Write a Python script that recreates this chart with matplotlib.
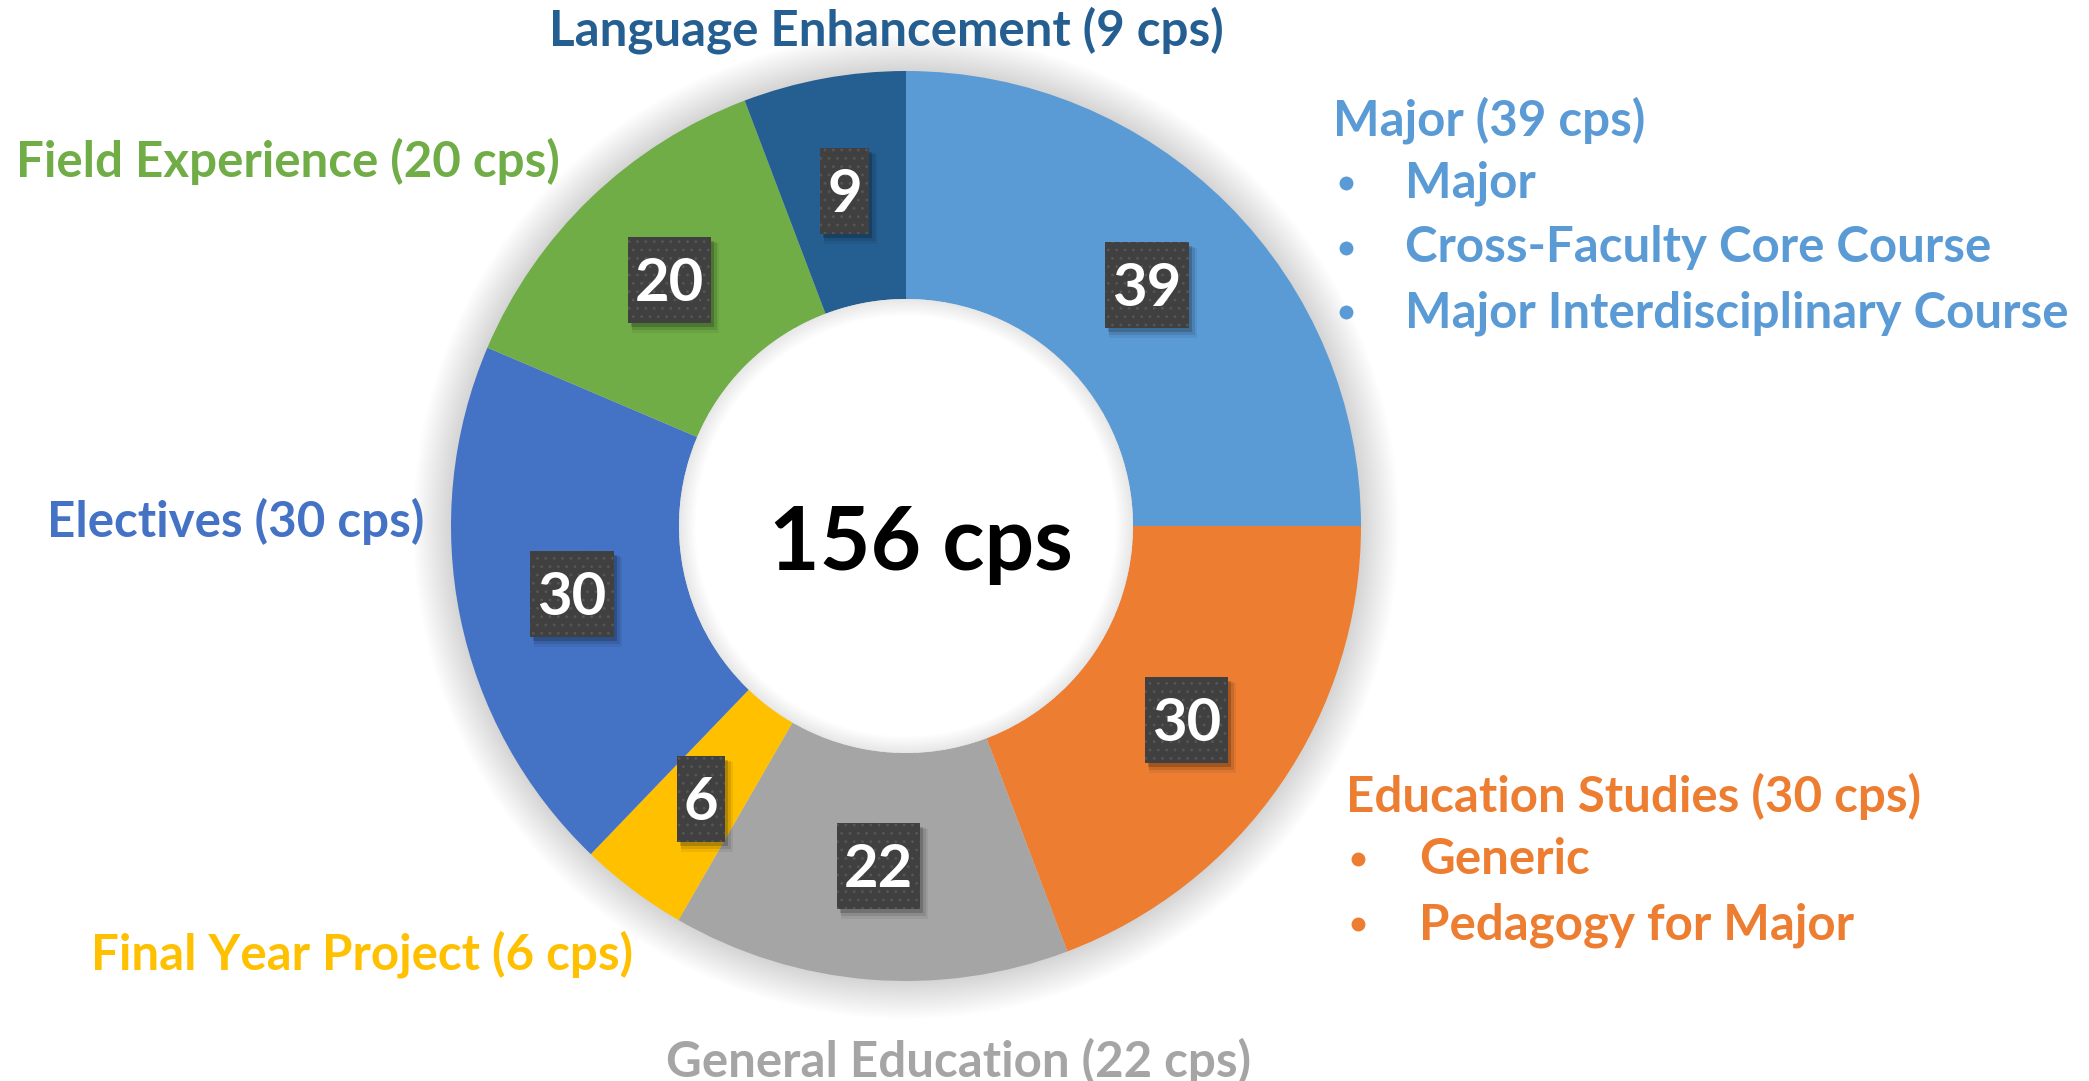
import numpy as np
import matplotlib.pyplot as plt
from matplotlib.patches import Circle, Wedge, Rectangle

# data
categories = ['Major', 'Education Studies', 'General Education', 'Final Year Project',
              'Electives', 'Field Experience', 'Language Enhancement']
credits = [39, 30, 22, 6, 30, 20, 9]
colors = ['#5B9BD5', '#ED7D31', '#A5A5A5', '#FFC000', '#4472C4', '#70AD47', '#255E91']
major_items = ['Major', 'Cross-Faculty Core Course', 'Major Interdisciplinary Course']
edu_items = ['Generic', 'Pedagogy for Major']

plt.rcParams['font.family'] = ['Lato', 'DejaVu Sans']
plt.rcParams['font.weight'] = 'bold'
plt.rcParams['hatch.linewidth'] = 0.8

W, H = 2089, 1081
fig = plt.figure(figsize=(W / 100, H / 100), dpi=100)
ax = fig.add_axes([0, 0, 1, 1])
ax.set_xlim(0, W)
ax.set_ylim(0, H)
ax.set_aspect('equal')
ax.axis('off')


def Y(y):
    # image row -> data y
    return H - y


cx, cy = 906, Y(526)
R, r_in = 455, 227

# soft glow around the ring
for k in range(22):
    ax.add_patch(Circle((cx, cy), R + 1.8 * k, color='black', alpha=0.008, lw=0, zorder=1))

ax.pie(credits, colors=colors, startangle=90, counterclock=False, radius=R,
       center=(cx, cy), wedgeprops=dict(width=R - r_in, linewidth=0))
for w in ax.patches[-len(credits):]:
    w.set_zorder(2)
ax.set_xlim(0, W)
ax.set_ylim(0, H)
ax.axis('off')

ax.add_patch(Circle((cx, cy), r_in, color='white', lw=0, zorder=3))
for k in range(12):
    ax.add_patch(Wedge((cx, cy), r_in, 0, 360, width=1.4 * (k + 1), color='black',
                       alpha=0.008, lw=0, zorder=4))

total = sum(credits)
ax.text(921, Y(570), f'{total} cps', fontsize=63, ha='center', va='baseline',
        color='black', zorder=8)

# value boxes on the ring
renderer = fig.canvas.get_renderer()
cum = np.cumsum([0] + credits)
rm = (R + r_in) / 2
for i, v in enumerate(credits):
    mid = (cum[i] + v / 2) / total * 360
    ang = np.deg2rad(90 - mid)
    x, y = cx + rm * np.cos(ang), cy + rm * np.sin(ang)
    t = ax.text(x, y - 21, str(v), fontsize=43, color='white', ha='center',
                va='baseline', zorder=9)
    tw = t.get_window_extent(renderer=renderer).width
    bw, bh = tw + 14, 86
    for dx, dy, grow, a in [(3, -4, 0, 0.18), (5, -6, 2, 0.10), (6, -8, 4, 0.06)]:
        ax.add_patch(Rectangle((x - bw / 2 + dx - grow / 2, y - bh / 2 + dy - grow / 2),
                               bw + grow, bh + grow, facecolor='black', alpha=a,
                               lw=0, zorder=5))
    ax.add_patch(Rectangle((x - bw / 2, y - bh / 2), bw, bh, facecolor='#404040',
                           edgecolor='#565656', hatch='..', lw=0, zorder=6))

# category labels
fs = 35.5
ax.text(886, Y(46), f'{categories[6]} ({credits[6]} cps)', color=colors[6],
        fontsize=fs, ha='center', va='baseline')
ax.text(1333, Y(135), f'{categories[0]} ({credits[0]} cps)', color=colors[0],
        fontsize=fs, ha='left', va='baseline')
for j, item in enumerate(major_items):
    yb = Y(198 + 64.5 * j)
    ax.plot(1346, yb + 15, 'o', ms=10, color=colors[0], mew=0)
    ax.text(1405, yb, item, color=colors[0], fontsize=fs, ha='left', va='baseline')

ax.text(16, Y(177), f'{categories[5]} ({credits[5]} cps)', color=colors[5],
        fontsize=fs, ha='left', va='baseline')
ax.text(47, Y(537), f'{categories[4]} ({credits[4]} cps)', color=colors[4],
        fontsize=fs, ha='left', va='baseline')
ax.text(91, Y(970), f'{categories[3]} ({credits[3]} cps)', color=colors[3],
        fontsize=fs, ha='left', va='baseline')
ax.text(959, Y(1077), f'{categories[2]} ({credits[2]} cps)', color=colors[2],
        fontsize=fs, ha='center', va='baseline')

ax.text(1346, Y(812), f'{categories[1]} ({credits[1]} cps)', color=colors[1],
        fontsize=fs, ha='left', va='baseline')
for j, item in enumerate(edu_items):
    yb = Y(874 + 65 * j)
    ax.plot(1358, yb + 15, 'o', ms=10, color=colors[1], mew=0)
    ax.text(1419, yb, item, color=colors[1], fontsize=fs, ha='left', va='baseline')

fig.savefig('out.png', dpi=100, facecolor='white')
